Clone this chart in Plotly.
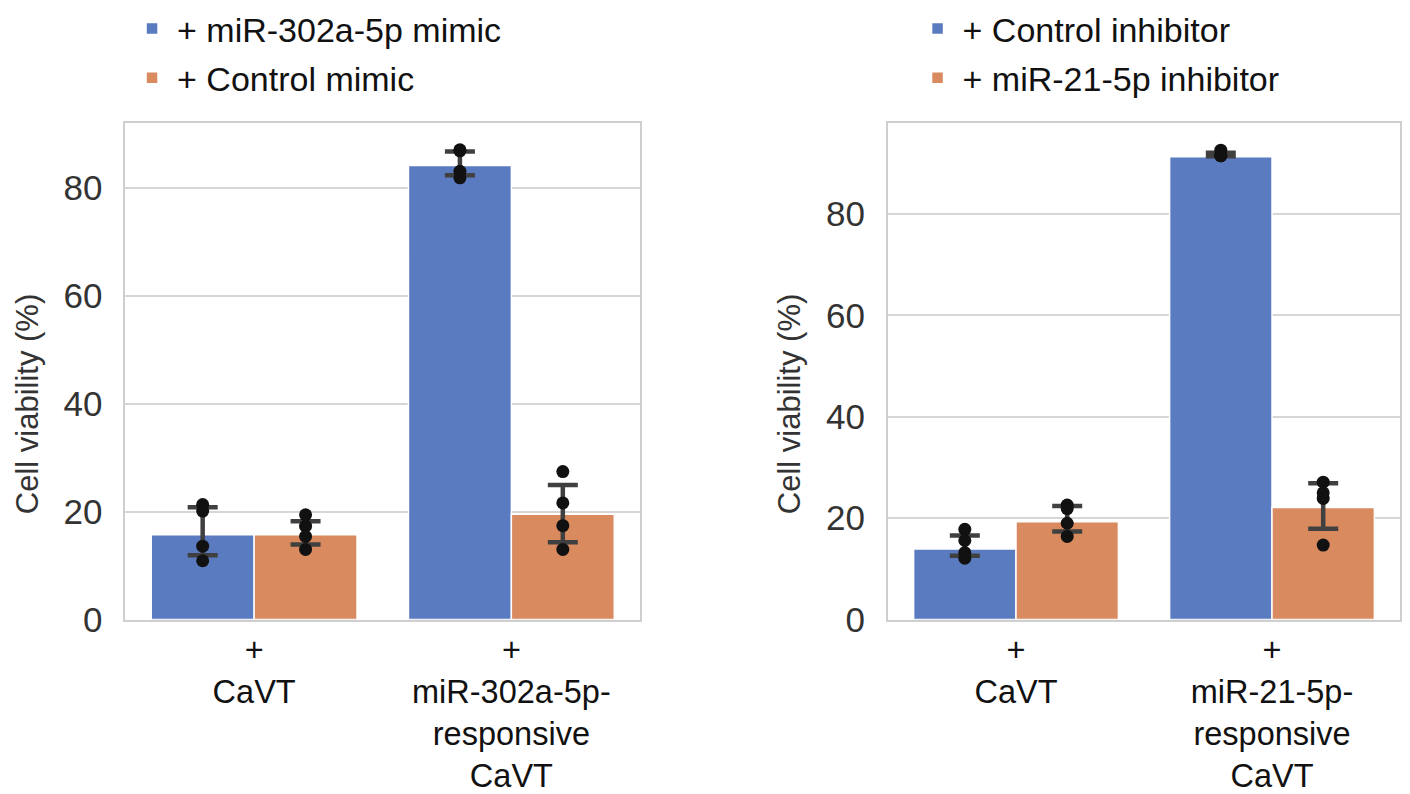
import plotly.graph_objects as go
from plotly.subplots import make_subplots

# ---------------- data ----------------
left_categories = ["+<br>CaVT", "+<br>miR-302a-5p-<br>responsive<br>CaVT"]
left_series = ["+ miR-302a-5p mimic", "+ Control mimic"]
left_means = {
    "+ miR-302a-5p mimic": [15.7, 84.1],
    "+ Control mimic": [15.7, 19.5],
}
left_err_hi = {
    "+ miR-302a-5p mimic": [20.8, 86.7],
    "+ Control mimic": [18.2, 24.9],
}
left_err_lo = {
    "+ miR-302a-5p mimic": [11.9, 82.3],
    "+ Control mimic": [13.9, 14.3],
}
left_points = {
    "+ miR-302a-5p mimic": [[21.3, 20.1, 13.6, 10.9], [87.0, 86.8, 83.0, 81.8]],
    "+ Control mimic": [[19.4, 17.3, 15.4, 13.0], [27.4, 21.6, 17.4, 13.0]],
}

right_categories = ["+<br>CaVT", "+<br>miR-21-5p-<br>responsive<br>CaVT"]
right_series = ["+ Control inhibitor", "+ miR-21-5p inhibitor"]
right_means = {
    "+ Control inhibitor": [13.9, 91.3],
    "+ miR-21-5p inhibitor": [19.3, 22.1],
}
right_err_hi = {
    "+ Control inhibitor": [16.6, 92.1],
    "+ miR-21-5p inhibitor": [22.4, 26.9],
}
right_err_lo = {
    "+ Control inhibitor": [12.6, 91.4],
    "+ miR-21-5p inhibitor": [17.4, 17.9],
}
right_points = {
    "+ Control inhibitor": [[17.8, 15.6, 13.2, 12.1], [92.6, 91.5, 91.5, 91.5]],
    "+ miR-21-5p inhibitor": [[22.6, 21.9, 19.0, 16.4], [27.1, 25.0, 23.9, 14.7]],
}

y_ticks = [0, 20, 40, 60, 80]
y_title = "Cell viability (%)"

# ---------------- style ----------------
COLORS = ["#5a7bbf", "#d98a5e"]
FONT = "Arial, Liberation Sans, sans-serif"
GRID = "#d6d6d6"
ERR = "#404040"

fig = make_subplots(rows=1, cols=2)


def add_panel(col, cats, series, means, hi, lo, pts, legend_name):
    for i, s in enumerate(series):
        m = means[s]
        fig.add_trace(
            go.Bar(
                x=cats, y=m, name=s,
                marker=dict(color=COLORS[i], line=dict(color="white", width=1.5)),
                offsetgroup=str(i), alignmentgroup=legend_name,
                error_y=dict(
                    type="data", symmetric=False,
                    array=[h - v for h, v in zip(hi[s], m)],
                    arrayminus=[v - l for l, v in zip(lo[s], m)],
                    color=ERR, thickness=4.5, width=15,
                ),
                legend=legend_name, legendgroup=legend_name + str(i),
                showlegend=True,
            ),
            row=1, col=col,
        )
    for i, s in enumerate(series):
        xs, ys = [], []
        for c, vals in zip(cats, pts[s]):
            for v in vals:
                xs.append(c)
                ys.append(v)
        fig.add_trace(
            go.Scatter(
                x=xs, y=ys, mode="markers",
                marker=dict(color="#111111", size=13),
                offsetgroup=str(i), alignmentgroup=legend_name,
                showlegend=False, hoverinfo="y",
            ),
            row=1, col=col,
        )


add_panel(1, left_categories, left_series, left_means, left_err_hi, left_err_lo, left_points, "legend")
add_panel(2, right_categories, right_series, right_means, right_err_hi, right_err_lo, right_points, "legend2")

fig.update_xaxes(
    showline=True, linecolor="#cfcfcf", linewidth=2, mirror=True,
    showgrid=False, zeroline=False, automargin=False,
    tickfont=dict(family=FONT, size=32.5, color="#111111"),
    ticks="", ticklen=0,
)
fig.update_yaxes(
    showline=True, linecolor="#cfcfcf", linewidth=2, mirror=True,
    showgrid=True, gridcolor=GRID, gridwidth=2, zeroline=False, automargin=False,
    tickvals=y_ticks,
    tickfont=dict(family=FONT, size=35, color="#333333"),
    ticks="outside", ticklen=14, tickcolor="rgba(0,0,0,0)",
)

# y-axis titles (placed slightly below the axis centre, as in the reference)
for xpos in (0.0192, 0.5596):
    fig.add_annotation(
        text=y_title, textangle=-90, showarrow=False,
        xref="paper", yref="paper", x=xpos, y=0.5076,
        xanchor="center", yanchor="middle",
        font=dict(family=FONT, size=31, color="#333333"),
    )

legend_style = dict(
    yanchor="top", xanchor="left", y=1.034,
    font=dict(family=FONT, size=34, color="#111111"),
    bgcolor="rgba(0,0,0,0)", tracegroupgap=2, itemwidth=40,
)

fig.update_layout(
    width=1410, height=794,
    margin=dict(l=0, r=0, t=0, b=0),
    paper_bgcolor="white", plot_bgcolor="white",
    barmode="group", bargap=0.2, bargroupgap=0.0,
    scattermode="group", scattergap=0.2,
    xaxis=dict(domain=[0.0890, 0.4539]),
    xaxis2=dict(domain=[0.6298, 0.9929]),
    yaxis=dict(domain=[0.2271, 0.8740], range=[0, 92.0]),
    yaxis2=dict(domain=[0.2271, 0.8740], range=[0, 98.0]),
    legend=dict(x=0.0901, **legend_style),
    legend2=dict(x=0.6472, **legend_style),
    showlegend=True,
)

fig.write_html(
    "out.html",
    config={"displayModeBar": False},
    post_script="document.body.style.margin='0';document.body.style.overflow='hidden';",
)
